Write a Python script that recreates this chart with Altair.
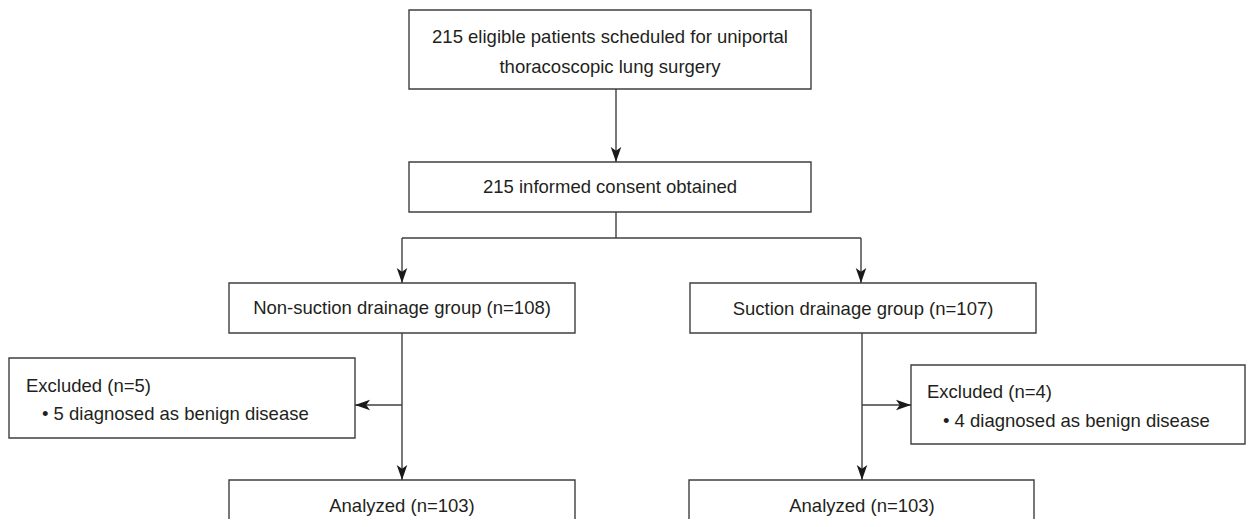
import altair as alt
import pandas as pd

# ---- boxes (page pixel coordinates) ----
box_x1 = [409, 409, 229, 690, 9, 911, 229, 689]
box_x2 = [811, 811, 575, 1036, 355, 1245, 575, 1034]
box_y1 = [10, 162, 283, 283, 358, 365, 480, 480]
box_y2 = [89, 212, 333, 333, 438, 444, 545, 545]

# ---- connector lines ----
line_x1 = [616, 616, 402, 402, 861, 402, 402, 862, 862]
line_y1 = [89, 212, 238, 238, 238, 333, 405, 333, 405]
line_x2 = [616, 616, 861, 402, 861, 402, 355, 862, 911]
line_y2 = [162, 238, 238, 283, 283, 480, 405, 480, 405]

# ---- arrow heads (tip positions) ----
arrow_x = [616, 402, 861, 402, 355, 862, 911]
arrow_y = [162, 283, 283, 480, 405, 480, 405]
arrow_dir = ["down", "down", "down", "down", "left", "down", "right"]

# ---- centred labels ----
ctext = [
    "215 eligible patients scheduled for uniportal",
    "thoracoscopic lung surgery",
    "215 informed consent obtained",
    "Non-suction drainage group (n=108)",
    "Suction drainage group (n=107)",
    "Analyzed (n=103)",
    "Analyzed (n=103)",
]
ctext_x = [610, 610, 610, 402, 863, 402, 862]
ctext_y = [37, 67, 187, 308, 309, 506, 506]

# ---- left-aligned labels ----
ltext = [
    "Excluded (n=5)",
    "\u2022 5 diagnosed as benign disease",
    "Excluded (n=4)",
    "\u2022 4 diagnosed as benign disease",
]
ltext_x = [26, 42, 927, 943]
ltext_y = [386, 414, 392, 421]

boxes = pd.DataFrame({"x1": box_x1, "x2": box_x2, "y1": box_y1, "y2": box_y2})
lines = pd.DataFrame({"x1": line_x1, "x2": line_x2, "y1": line_y1, "y2": line_y2})
arrows = pd.DataFrame({"x": arrow_x, "y": arrow_y, "d": arrow_dir})
ctexts = pd.DataFrame({"t": ctext, "x": ctext_x, "y": ctext_y})
ltexts = pd.DataFrame({"t": ltext, "x": ltext_x, "y": ltext_y})

XS = alt.Scale(domain=[8, 1246], nice=False, zero=False)
YS = alt.Scale(domain=[8, 519], nice=False, zero=False, reverse=True)

LINE = "#3f3f3f"
TEXT = "#231f20"
FONT = "Liberation Sans"
FS = 18.5


def X(f):
    return alt.X(f, type="quantitative", scale=XS, axis=None)


def Y(f):
    return alt.Y(f, type="quantitative", scale=YS, axis=None)


rects = alt.Chart(boxes).mark_rect(
    fill="white", stroke=LINE, strokeWidth=1.4, clip=True
).encode(x=X("x1"), x2="x2", y=Y("y1"), y2="y2")

rules = alt.Chart(lines).mark_rule(
    color=LINE, strokeWidth=1.4, clip=True
).encode(x=X("x1"), x2="x2", y=Y("y1"), y2="y2")

shape_paths = [
    "M0,0 L-0.7,-2 L0,-1.5 L0.7,-2 Z",
    "M0,0 L2,-0.7 L1.5,0 L2,0.7 Z",
    "M0,0 L-2,-0.7 L-1.5,0 L-2,0.7 Z",
]
heads = alt.Chart(arrows).mark_point(
    filled=True, color="#1a1a1a", opacity=1, size=225, clip=True
).encode(
    x=X("x"),
    y=Y("y"),
    shape=alt.Shape(
        "d:N",
        scale=alt.Scale(domain=["down", "left", "right"], range=shape_paths),
        legend=None,
    ),
)

ctext_layer = alt.Chart(ctexts).mark_text(
    font=FONT, fontSize=FS, color=TEXT, align="center", baseline="middle"
).encode(x=X("x"), y=Y("y"), text="t:N")

ltext_layer = alt.Chart(ltexts).mark_text(
    font=FONT, fontSize=FS, color=TEXT, align="left", baseline="middle"
).encode(x=X("x"), y=Y("y"), text="t:N")

chart = (
    alt.layer(rules, rects, heads, ctext_layer, ltext_layer)
    .properties(width=1238, height=511, padding=0, background="white")
    .configure_view(stroke=None)
)

chart.save("out.html", embed_options={"renderer": "svg", "actions": False})
